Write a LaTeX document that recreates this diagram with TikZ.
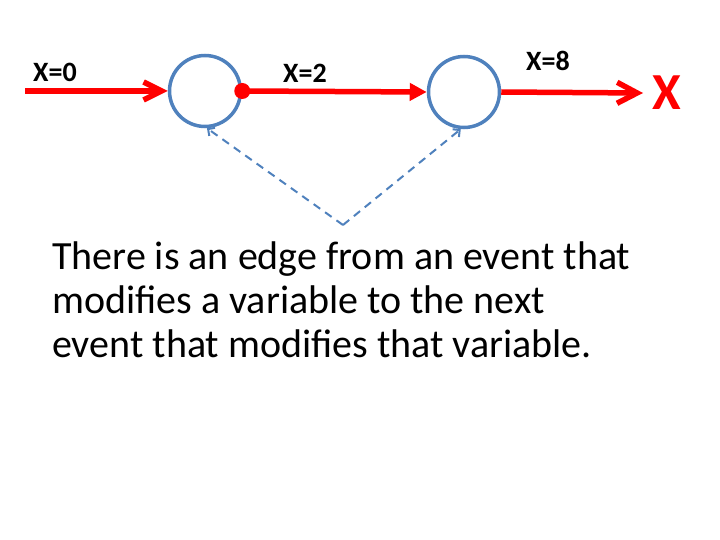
\documentclass[tikz,border=0pt]{standalone}
\usepackage{fontspec}
\setmainfont{Carlito}
\usetikzlibrary{calc}
\usetikzlibrary{arrows.meta}

\definecolor{evblue}{RGB}{79,129,189}

\begin{document}
\begin{tikzpicture}[x=1pt,y=-1pt,
		event/.style={circle, draw=evblue, line width=3.5pt, minimum size=71pt, inner sep=0pt},
		wr/.style={red, line width=5.5pt},
		lbl/.style={anchor=base, inner sep=0pt, font=\bfseries\fontsize{28}{34}\selectfont},
		order/.style={evblue, line width=2pt, dash pattern=on 8pt off 6pt, -{Straight Barb[length=5pt,width=10pt]}}]
			\useasboundingbox (0,0) rectangle (720,540);

			\node[event] (E1) at (205,91) {};
			\node[event] (E2) at ($(E1)+(259,1)$) {};
			\node[circle, fill=red, minimum size=16pt, inner sep=0pt] (D1) at (E1.east) {};

			\coordinate (in0) at ($(E1)+(-180,0)$);
			\coordinate (out) at ($(E2)+(179,1)$);
			\coordinate (low) at ($(E1)+(138,134)$);

			%labels of the values
			\node[lbl] (p0) at (55,82) {X=0};
			\node[lbl] (p2) at (305,83) {X=2};
			\node[lbl] (p8) at (548,71) {X=8};
			\node[anchor=base, inner sep=0pt, text=red, font=\bfseries\fontsize{52}{60}\selectfont] (var) at ($(out)+(24,17)$) {X};

			\draw[wr,-{Straight Barb[length=18pt,width=18pt]}] (in0) -- (E1.west);
			\draw[wr,-{Triangle[length=17pt,width=17pt]}] (D1.center) -- (E2.west);
			\draw[wr,-{Straight Barb[length=20pt,width=21pt]}] (E2.east) -- (out);

			\draw[order] (low) -- (E1.-87);
			\draw[order] (low) -- (E2.-95);

			% base is the last line here
			\node[anchor=base west, align=left, inner sep=0pt, font=\fontsize{40}{44}\selectfont] (note) at (52,357) {There is an edge from an event that\\modifies a variable to the next\\event that modifies that variable.};

		\end{tikzpicture}
\end{document}
